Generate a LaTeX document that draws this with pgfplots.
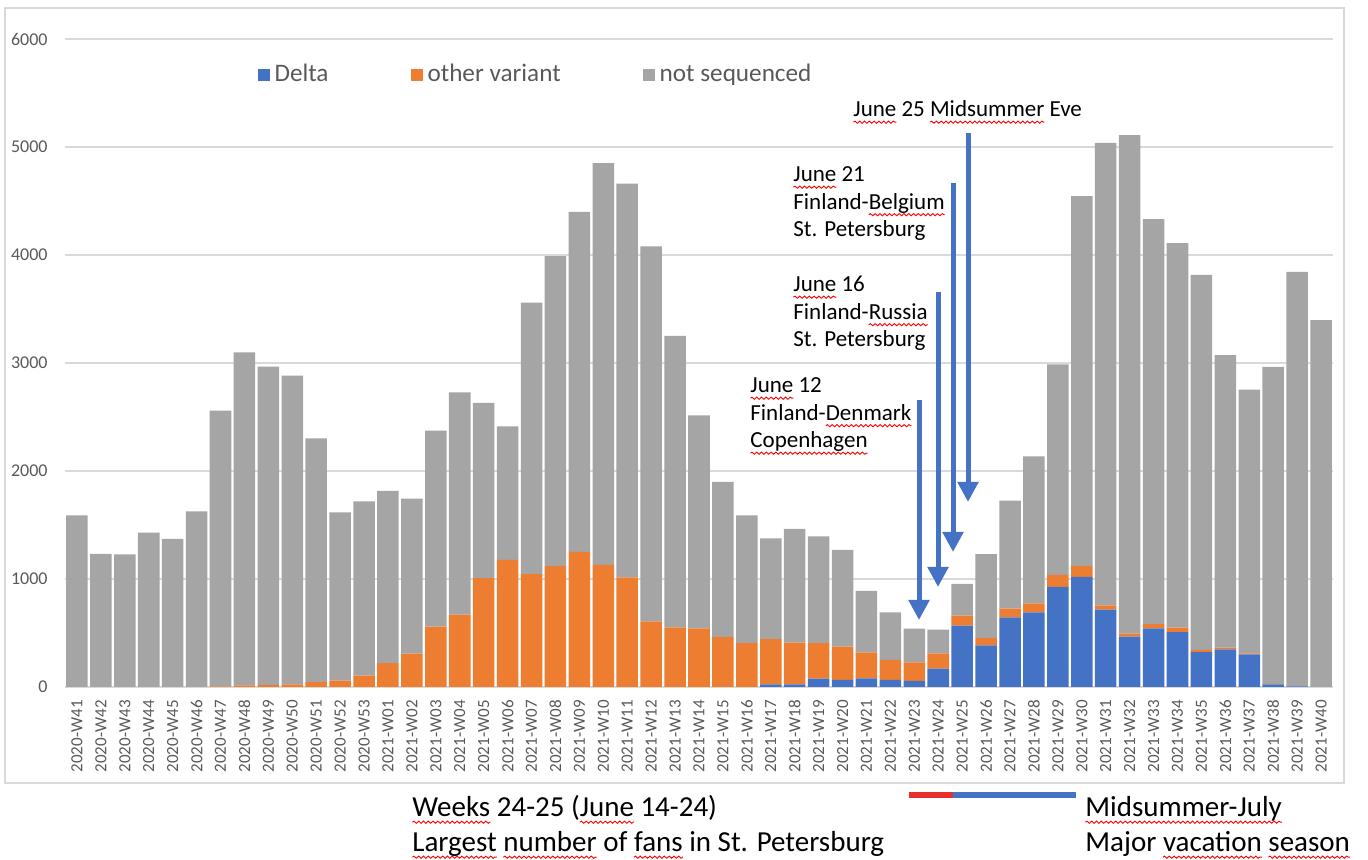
\documentclass[border=0pt]{standalone}
\usepackage{fontspec}
\setmainfont{Carlito}
\usepackage{pgfplots}
\pgfplotsset{compat=1.18}
\usepackage{pgfplotstable}
\usetikzlibrary{arrows.meta,decorations.pathmorphing}
\definecolor{dblue}{HTML}{4472C4}
\definecolor{dorange}{HTML}{ED7D31}
\definecolor{dgray}{HTML}{A5A5A5}
\definecolor{tgray}{HTML}{595959}
\definecolor{gridc}{HTML}{D9D9D9}
\definecolor{wred}{HTML}{E8302A}
\newlength\sqw
\newcommand\sq[1]{\settowidth\sqw{#1}\rlap{\tikz[overlay,baseline=0pt]\draw[red, line width=0.45pt, decorate, decoration={snake,amplitude=0.55pt,segment length=2.4pt}] (0pt,-2.6pt) -- (\sqw,-2.6pt);}#1}

\pgfplotstableread{
i lab delta other notseq
0 2020-W41 0 0 1590
1 2020-W42 0 0 1232
2 2020-W43 0 0 1228
3 2020-W44 0 0 1430
4 2020-W45 0 0 1372
5 2020-W46 0 0 1626
6 2020-W47 0 5 2555
7 2020-W48 0 15 3083
8 2020-W49 0 20 2946
9 2020-W50 0 25 2857
10 2020-W51 0 45 2257
11 2020-W52 0 60 1557
12 2020-W53 0 105 1614
13 2021-W01 0 222 1593
14 2021-W02 0 309 1435
15 2021-W03 0 559 1815
16 2021-W04 0 670 2058
17 2021-W05 0 1009 1621
18 2021-W06 0 1176 1238
19 2021-W07 0 1046 2514
20 2021-W08 0 1120 2870
21 2021-W09 0 1250 3150
22 2021-W10 0 1130 3720
23 2021-W11 0 1015 3645
24 2021-W12 0 608 3472
25 2021-W13 0 552 2698
26 2021-W14 0 543 1972
27 2021-W15 0 461 1439
28 2021-W16 0 407 1183
29 2021-W17 25 419 933
30 2021-W18 25 385 1053
31 2021-W19 77 329 989
32 2021-W20 66 307 896
33 2021-W21 80 241 568
34 2021-W22 65 185 441
35 2021-W23 56 172 312
36 2021-W24 170 142 219
37 2021-W25 568 92 294
38 2021-W26 386 67 778
39 2021-W27 645 80 1000
40 2021-W28 691 84 1361
41 2021-W29 926 111 1951
42 2021-W30 1019 101 3426
43 2021-W31 717 39 4281
44 2021-W32 466 28 4616
45 2021-W33 543 40 3750
46 2021-W34 509 40 3562
47 2021-W35 324 19 3472
48 2021-W36 349 15 2710
49 2021-W37 302 10 2441
50 2021-W38 25 3 2935
51 2021-W39 5 0 3838
52 2021-W40 0 0 3398
}\data

\begin{document}
\begin{tikzpicture}
\path[use as bounding box] (0,0) rectangle (684pt,430pt);
\draw[gridc, line width=0.75pt] (2.5pt,426pt) rectangle (672pt,38.5pt);
\begin{axis}[
  at={(32.5pt,86.5pt)}, anchor=south west,
  scale only axis, width=634pt, height=324pt,
  ybar stacked, bar width=0.9,
  xmin=-0.5, xmax=52.5, ymin=0, ymax=6000,
  ytick={0,1000,...,6000},
  xtick=data, xticklabels from table={\data}{lab},
  axis line style={draw=none}, major tick length=0pt,
  ymajorgrids, grid style={gridc, line width=0.75pt},
  xticklabel style={rotate=90, anchor=east, inner sep=0pt, font=\fontsize{8.5}{10}\selectfont, text=tgray},
  yticklabel style={anchor=east, inner sep=0pt, font=\fontsize{9}{11}\selectfont, text=tgray},
  xticklabel shift=6.5pt, yticklabel shift=8.5pt,
  /pgf/number format/assume math mode=true,
  /pgf/number format/set thousands separator={},
  legend columns=3,
  legend style={at={(0.1515,0.945)}, anchor=west, draw=none, fill=none,
    font=\fontsize{12.6}{14}\selectfont, text=tgray, inner sep=0pt,
    nodes={inner sep=0pt},
    /tikz/every odd column/.append style={column sep=2.5pt},
    /tikz/every even column/.append style={column sep=41pt}},
  legend image code/.code={\fill[#1] (0pt,-3pt) rectangle (6pt,3pt);},
]
\addplot[fill=dblue, draw=none] table[x=i,y=delta]{\data};
\addplot[fill=dorange, draw=none] table[x=i,y=other]{\data};
\addplot[fill=dgray, draw=none] table[x=i,y=notseq]{\data};
\legend{Delta, other variant, not sequenced}
\end{axis}
% arrows
\begin{scope}[dblue, line width=2.5pt, -{Triangle[width=10pt,length=10pt]}]
\draw (459.5pt,230pt) -- (459.5pt,120pt);
\draw (469pt,284pt) -- (469pt,136.5pt);
\draw (476.5pt,338.5pt) -- (476.5pt,154pt);
\draw (484pt,363.5pt) -- (484pt,179pt);
\end{scope}
% annotations
\begin{scope}[every node/.style={anchor=base west, inner sep=0pt, font=\fontsize{11.5}{13.75}\selectfont}]
\node at (426.5pt,371.5pt) {\sq{June} 25 \sq{Midsummer} Eve};
\node at (396.5pt,339pt) {\sq{June} 21};
\node at (396.5pt,325.25pt) {Finland-\sq{Belgium}};
\node at (396.5pt,311.5pt) {St. Petersburg};
\node at (396.5pt,284pt) {\sq{June} 16};
\node at (396.5pt,270.25pt) {Finland-\sq{Russia}};
\node at (396.5pt,256.5pt) {St. Petersburg};
\node at (375pt,233.5pt) {\sq{June} 12};
\node at (375pt,219.75pt) {Finland-\sq{Denmark}};
\node at (375pt,206pt) {\sq{Copenhagen}};
\end{scope}
\begin{scope}[every node/.style={anchor=base west, inner sep=0pt, font=\fontsize{14.5}{17.5}\selectfont}]
\node at (206pt,21.5pt) {\sq{Weeks} 24-25 (\sq{June} 14-24)};
\node at (206pt,4pt) {\sq{Largest} \sq{number} of \sq{fans} in St. Petersburg};
\node at (542.5pt,21.5pt) {\sq{Midsummer-July}};
\node at (542.5pt,4pt) {Major \sq{vacation} \sq{season}};
\end{scope}
\draw[wred, line width=3pt] (454.5pt,32.5pt) -- (476.5pt,32.5pt);
\draw[dblue, line width=3pt] (476.5pt,32.5pt) -- (538pt,32.5pt);
\end{tikzpicture}
\end{document}
